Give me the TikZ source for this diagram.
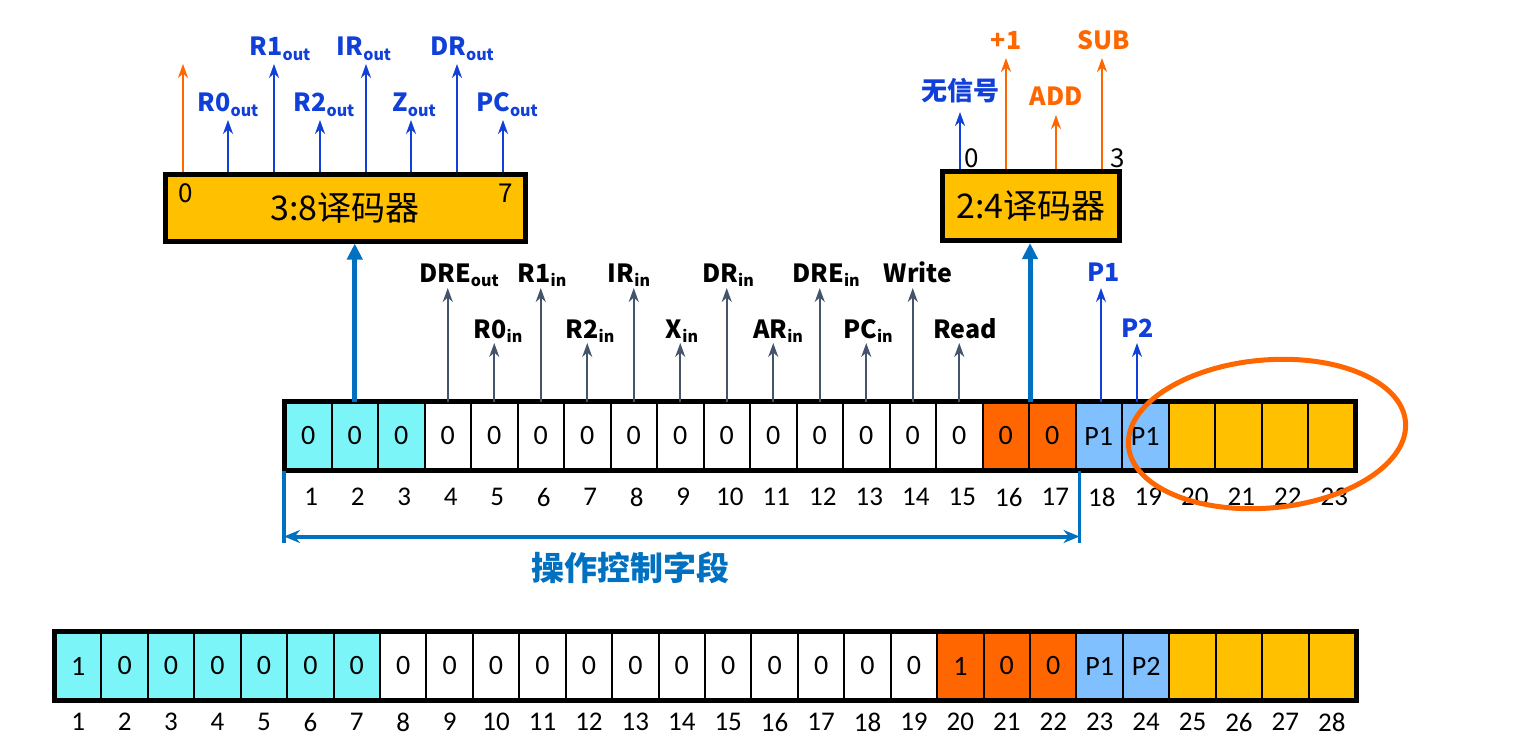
\documentclass[tikz,border=0pt]{standalone}
\usepackage{fontspec}
\setmainfont{Noto Sans CJK SC}
\newfontfamily\heavy{Noto Sans CJK SC Black}
\newfontfamily\calfont{Carlito}
\usetikzlibrary{arrows.meta,calc}
\definecolor{sigblue}{RGB}{16,64,216}
\definecolor{sgray}{RGB}{68,84,106}
\definecolor{dorange}{RGB}{255,102,0}
\definecolor{dblue}{RGB}{0,112,192}
\definecolor{cyanc}{RGB}{124,245,248}
\definecolor{lblue}{RGB}{128,192,255}
\definecolor{goldc}{RGB}{255,192,0}
\newcommand\sbs[1]{\raisebox{-0.35ex}{\fontsize{16}{16}\selectfont #1}}
\begin{document}
\begin{tikzpicture}[x=1pt,y=-1pt,
  cell/.style={draw=black, line width=2pt, minimum width=46.5pt, minimum height=67pt, inner sep=0pt, font=\calfont\fontsize{28}{28}\selectfont},
  bcell/.style={cell, minimum width=46.43pt},
  numlab/.style={font=\calfont\fontsize{27}{27}\selectfont, inner sep=0pt},
  dec/.style={draw=black, line width=5pt, fill=goldc, inner sep=0pt, font=\fontsize{34}{34}\selectfont},
  declab/.style={font=\fontsize{26}{26}\selectfont, inner sep=0pt},
  toplab/.style={font=\bfseries\fontsize{25}{25}\selectfont, text=sigblue, anchor=base, inner sep=0pt},
  orlab/.style={font=\bfseries\fontsize{25}{25}\selectfont, text=dorange, anchor=base, inner sep=0pt},
  midlab/.style={font=\heavy\fontsize{25}{25}\selectfont, text=black, anchor=base, inner sep=0pt},
  sigb/.style={draw=sigblue, line width=2.5pt, -{Stealth[length=14pt,width=10pt]}},
  sigo/.style={draw=dorange, line width=2.5pt, -{Stealth[length=14pt,width=10pt]}},
  sigg/.style={draw=sgray, line width=2.2pt, -{Stealth[length=14pt,width=10pt]}},
  bigarrow/.style={draw=dblue, line width=5pt, -{Triangle[length=16pt,width=15pt]}},
]
\useasboundingbox (0,0) rectangle (1520,746);

% ---------- top register ----------
\foreach \i/\c/\v in {1/cyanc/0,2/cyanc/0,3/cyanc/0,4/white/0,5/white/0,6/white/0,7/white/0,8/white/0,9/white/0,10/white/0,11/white/0,12/white/0,13/white/0,14/white/0,15/white/0,16/dorange/0,17/dorange/0,18/lblue/P1,19/lblue/P1,20/goldc/,21/goldc/,22/goldc/,23/goldc/}{
  \node[cell, fill=\c] (t\i) at ({285+(\i-0.5)*46.5},436) {\v};
  \path (t\i.center) ++(3,61) node[numlab] (tn\i) {\i};
}
\draw[line width=5pt] (t1.north west) rectangle (t23.south east);

% ---------- bottom register ----------
\foreach \i/\c/\v in {1/cyanc/1,2/cyanc/0,3/cyanc/0,4/cyanc/0,5/cyanc/0,6/cyanc/0,7/cyanc/0,8/white/0,9/white/0,10/white/0,11/white/0,12/white/0,13/white/0,14/white/0,15/white/0,16/white/0,17/white/0,18/white/0,19/white/0,20/dorange/1,21/dorange/0,22/dorange/0,23/lblue/P1,24/lblue/P2,25/goldc/,26/goldc/,27/goldc/,28/goldc/}{
  \node[bcell, fill=\c] (b\i) at ({55+(\i-0.5)*46.43},666) {\v};
  \path (b\i.center) ++(0,56) node[numlab] (bn\i) {\i};
}
\draw[line width=5pt] (b1.north west) rectangle (b28.south east);

% ---------- 3:8 decoder ----------
\node[dec, minimum width=360pt, minimum height=66pt] (d38) at (345,208) {3:8译码器};
\node[declab] (d38a) at (186,193) {0};
\node[declab] (d38b) at (506,193) {7};
\draw[bigarrow] (t2.north) -- (t2.north |- d38.south);

\coordinate (p0) at (183,64);
\coordinate (p1) at (228,120);
\coordinate (p2) at (274,64);
\coordinate (p3) at (320,120);
\coordinate (p4) at (366,64);
\coordinate (p5) at (411,120);
\coordinate (p6) at (457,64);
\coordinate (p7) at (503,120);
\draw[sigo] (d38.north -| p0) -- (p0);
\foreach \k in {1,...,7}{\draw[sigb] (d38.north -| p\k) -- (p\k);}
\node[toplab] (l1) at (228,112) {R0\sbs{out}};
\node[toplab] (l2) at (280,56) {R1\sbs{out}};
\node[toplab] (l3) at (324,112) {R2\sbs{out}};
\node[toplab] (l4) at (364,56) {IR\sbs{out}};
\node[toplab] (l5) at (414,112) {Z\sbs{out}};
\node[toplab] (l6) at (462,56) {DR\sbs{out}};
\node[toplab] (l7) at (507,112) {PC\sbs{out}};

% ---------- middle control signals ----------
\foreach \i/\ty in {4/288,5/343,6/288,7/343,8/288,9/343,10/288,11/343,12/288,13/343,14/288,15/343}{
  \draw[sigg] (t\i.north) -- (t\i.north |- 0,\ty);
}
\node[midlab] (s4) at (459,282) {DRE\sbs{out}};
\node[midlab] (s5) at (498,338) {R0\sbs{in}};
\node[midlab] (s6) at (542,282) {R1\sbs{in}};
\node[midlab] (s7) at (590,338) {R2\sbs{in}};
\node[midlab] (s8) at (629,282) {IR\sbs{in}};
\node[midlab] (s9) at (682,338) {X\sbs{in}};
\node[midlab] (s10) at (728,282) {DR\sbs{in}};
\node[midlab] (s11) at (778,338) {AR\sbs{in}};
\node[midlab] (s12) at (826,282) {DRE\sbs{in}};
\node[midlab] (s13) at (868,338) {PC\sbs{in}};
\node[midlab] (s14) at (918,282) {Write};
\node[midlab] (s15) at (965,338) {Read};

% ---------- 2:4 decoder ----------
\node[dec, minimum width=177pt, minimum height=69pt] (d24) at (1031,206) {2:4译码器};
\node[declab] (d24a) at (972,158) {0};
\node[declab] (d24b) at (1118,158) {3};
\draw[bigarrow] (t16.north east) -- (t16.north east |- d24.south);
\coordinate (q0) at (960,112);
\coordinate (q1) at (1006,58);
\coordinate (q2) at (1056,115);
\coordinate (q3) at (1102,58);
\draw[sigb] (d24.north -| q0) -- (q0);
\draw[sigo] (d24.north -| q1) -- (q1);
\draw[sigo] (d24.north -| q2) -- (q2);
\draw[sigo] (d24.north -| q3) -- (q3);
\node[toplab, font=\bfseries\fontsize{26}{26}\selectfont] (u0) at (960,101) {无信号};
\node[orlab] (u1) at (1006,50) {+1};
\node[orlab] (u2) at (1056,106) {ADD};
\node[orlab] (u3) at (1104,50) {SUB};

% P1 / P2
\coordinate (r1) at (1101,288);
\coordinate (r2) at (1137,343);
\draw[sigb, line width=2pt] (t18.north -| r1) -- (r1);
\draw[sigb, line width=2pt] (t19.north -| r2) -- (r2);
\node[toplab] (pl1) at (1104,281) {P1};
\node[toplab] (pl2) at (1138,337) {P2};

% ---------- bracket ----------
\coordinate (k1) at ($(t1.south west)+(0,72)$);
\coordinate (k2) at ($(t17.south east)+(3,72)$);
\draw[dblue, line width=3.5pt] (t1.south west) -- (k1);
\draw[dblue, line width=3.5pt] ($(t17.south east)+(3,0)$) -- (k2);
\draw[dblue, line width=4pt, {Stealth[length=16pt,width=13pt]}-{Stealth[length=16pt,width=13pt]}] ($(k1)+(0,-6)$) -- ($(k2)+(0,-6)$);
\node[font=\heavy\fontsize{33}{33}\selectfont, text=dblue] (bt) at (630,568) {操作控制字段};

% ---------- orange ellipse ----------
\draw[dorange, line width=5pt, rotate around={5:(1267,434)}] (1267,434) ellipse [x radius=139pt, y radius=74pt];
\end{tikzpicture}
\end{document}
